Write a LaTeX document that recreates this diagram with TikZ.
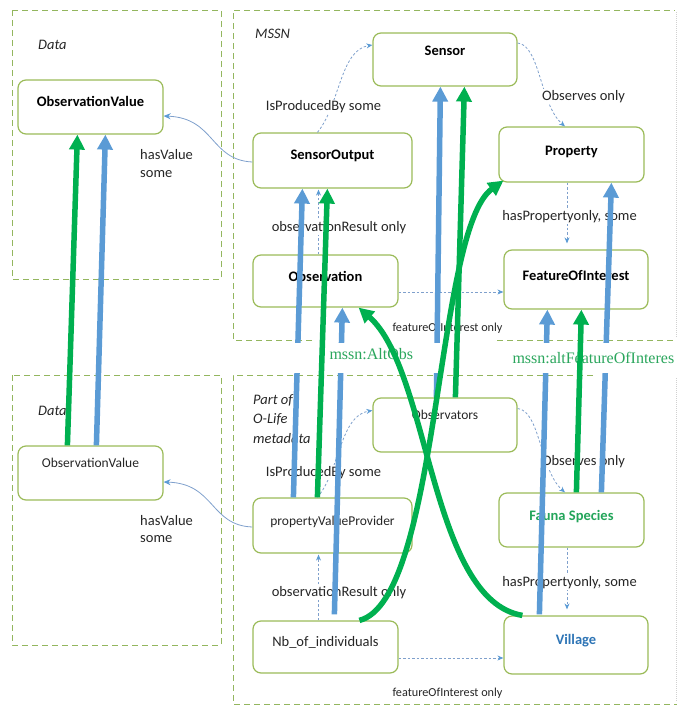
\documentclass[tikz,border=0pt]{standalone}
\usepackage{fontspec}
\setmainfont{Carlito}
\newfontfamily\timesfont{Liberation Serif}
\usetikzlibrary{arrows.meta}
\definecolor{contgreen}{HTML}{93B65E}
\definecolor{boxgreen}{HTML}{9BBB59}
\definecolor{tblue}{HTML}{5B9BD5}
\definecolor{tgreen}{HTML}{00B050}
\definecolor{thinblue}{HTML}{7FA0CC}
\definecolor{labgray}{HTML}{262626}
\definecolor{faunagreen}{HTML}{23A55A}
\definecolor{villageblue}{HTML}{2E75B6}
\definecolor{mssngreen}{HTML}{2AA65C}
\definecolor{edgegray}{HTML}{D0D0D0}
\begin{document}
\begin{tikzpicture}[x=1pt,y=-1pt,
  container/.style={draw=contgreen, line width=0.9pt, dash pattern=on 6pt off 4pt},
  faintedge/.style={draw=edgegray, line width=0.6pt, dash pattern=on 1pt off 1pt},
  box/.style={draw=boxgreen, line width=1.2pt, rounded corners=8pt, fill=white, inner sep=0pt, text=black, text height=10pt, font=\fontsize{14.5}{17}\selectfont\bfseries},
  plainbox/.style={box, text=labgray, font=\fontsize{13.5}{16}\selectfont},
  txd/.style={text depth=#1},
  lab/.style={fill=white, inner sep=1pt, text=labgray, font=\fontsize{14.5}{17.7}\selectfont, anchor=base},
  smalllab/.style={lab, font=\fontsize{12.2}{14}\selectfont},
  ital/.style={inner sep=0pt, anchor=base west, text=labgray, font=\fontsize{14.5}{19.5}\selectfont\itshape, align=left},
  rel/.style={draw=thinblue, line width=0.8pt, dash pattern=on 2.5pt off 2pt, -{Stealth[length=6pt,width=5pt,color=tblue]}},
  relsolid/.style={draw=thinblue, line width=0.8pt, -{Stealth[length=7pt,width=6pt,color=tblue]}},
  bluearrow/.style={draw=tblue, line width=5.5pt, -{Triangle[length=15pt,width=15pt]}},
  greenarrow/.style={draw=tgreen, line width=5.5pt, -{Triangle[length=15pt,width=15pt]}},
  mssnlab/.style={inner sep=0pt, anchor=base west, text=mssngreen, font=\timesfont\fontsize{16}{18}\selectfont}
]
\useasboundingbox (0,0) rectangle (677,707);

% containers
\draw[container] (12,10) rectangle (221,279);
\draw[container] (12,375) rectangle (221,645);
\draw[container] (312,340) -- (233,340) -- (233,10) -- (675,10);
\draw[container] (497,340.5) -- (677,340.5);
\draw[faintedge] (676,12) -- (676,338);
\draw[container] (593,375) -- (233,375) -- (233,704) -- (677,704);
\draw[faintedge] (676,378) -- (676,702);

% boxes, top
\node[box, minimum width=145pt, minimum height=54pt, txd=11.2pt] (ovT) at (90.5,107) {ObservationValue};
\node[box, minimum width=144pt, minimum height=53pt, txd=17.6pt] (sensor) at (445,59.5) {Sensor};
\node[box, minimum width=159pt, minimum height=55pt, txd=11.6pt] (sout) at (332.5,160.5) {SensorOutput};
\node[box, minimum width=145pt, minimum height=52pt, txd=8.6pt] (obs) at (325.5,281) {Observation};
\node[box, minimum width=145pt, minimum height=55pt, txd=8.2pt] (prop) at (571.5,154.5) {Property};
\node[box, minimum width=144pt, minimum height=59pt, txd=9pt] (foi) at (576,279.5) {FeatureOfInterest};
% boxes, bottom
\node[plainbox, minimum width=145pt, minimum height=54pt, txd=21.9pt] (ovB) at (90.5,473) {ObservationValue};
\node[plainbox, minimum width=144pt, minimum height=54pt, txd=21.3pt] (obsv) at (445,425) {Observators};
\node[plainbox, minimum width=159pt, minimum height=55pt, txd=10.9pt] (pvp) at (332.5,525.5) {propertyValueProvider};
\node[plainbox, font=\fontsize{14.5}{17}\selectfont, minimum width=145pt, minimum height=52pt, txd=11.2pt] (nb) at (325.5,647) {Nb\_of\_individuals};
\node[box, text=faunagreen, minimum width=145pt, minimum height=54pt, txd=9pt] (fauna) at (571.5,520) {Fauna Species};
\node[box, text=villageblue, minimum width=144pt, minimum height=58pt, txd=10.6pt] (village) at (576,645) {Village};

% thin relations, top
\draw[rel] ([xshift=65pt]sout.north west) .. controls (340,105) and (340,50) .. ([yshift=14.5pt]sensor.west);
\draw[rel] ([yshift=16.5pt]sensor.east) .. controls (540,45) and (540,105) .. ([xshift=-6.5pt]prop.north);
\draw[rel, shorten >=6pt] ([xshift=-4.5pt]prop.south) -- ([xshift=-9pt]foi.north);
\draw[rel, shorten >=1pt] ([xshift=-7pt]obs.north) -- ([xshift=-14pt]sout.south);
\draw[rel] ([yshift=-11pt]obs.east) -- ([yshift=-12.5pt]foi.west);
\draw[relsolid] ([yshift=-1.5pt]sout.west) .. controls (210,160) and (215,118) .. ([yshift=-9pt]ovT.east);
% thin relations, bottom
\draw[rel] ([xshift=65pt]pvp.north west) .. controls (340,470.5) and (340,415.5) .. ([yshift=14.5pt]obsv.west);
\draw[rel] ([yshift=16.5pt]obsv.east) .. controls (540,410.5) and (540,470.5) .. ([xshift=-6.5pt]fauna.north);
\draw[rel, shorten >=6pt] ([xshift=-4.5pt]fauna.south) -- ([xshift=-9pt]village.north);
\draw[rel, shorten >=1pt] ([xshift=-7pt]nb.north) -- ([xshift=-14pt]pvp.south);
\draw[rel] ([yshift=-11pt]nb.east) -- ([yshift=-13pt]village.west);
\draw[relsolid] ([yshift=-1.5pt]pvp.west) .. controls (210,525.5) and (215,483.5) .. ([yshift=-9pt]ovB.east);

% labels, top
\node[ital] (tData) at (38,49.7) {Data};
\node[ital] (tMSSN) at (255,38.7) {MSSN};
\node[lab] (lProdT) at (323.5,110.7) {IsProducedBy some};
\node[lab, anchor=base west, align=left] (lValT) at (139,177.4) {hasValue\\some};
\node[lab] (lObsT) at (583.5,100.4) {Observes only};
\node[lab] (lPropT) at (569.5,220.7) {hasPropertyonly, some};
\node[lab] (lResT) at (339,231.4) {observationResult only};
\node[smalllab] (lFoiT) at (447.5,331.3) {featureOfInterest only};
% labels, bottom
\node[ital] (bData) at (38,415.2) {Data};
\node[ital] (bPart) at (253,443.2) {Part of\\O-Life\\metadata};
\node[lab] (lProdB) at (323.5,476.2) {IsProducedBy some};
\node[lab, anchor=base west, align=left] (lValB) at (139,542.9) {hasValue\\some};
\node[lab] (lObsB) at (583.5,465.9) {Observes only};
\node[lab] (lPropB) at (569.5,586.2) {hasPropertyonly, some};
\node[lab] (lResB) at (339,596.9) {observationResult only};
\node[smalllab] (lFoiB) at (447.5,696.8) {featureOfInterest only};

% thick blue arrows
\draw[bluearrow] ([xshift=79pt]ovB.north west) -- ([xshift=88pt]ovT.south west);
\draw[bluearrow] ([xshift=41pt]pvp.north west) -- ([xshift=50pt]sout.south west);
\draw[bluearrow] ([xshift=82pt,yshift=6pt]nb.north west) -- ([xshift=90pt]obs.south west);
\draw[bluearrow] ([xshift=64pt]obsv.north west) -- ([xshift=68pt]sensor.south west);
\draw[bluearrow] ([xshift=36pt,yshift=1pt]village.north west) -- ([xshift=44pt]foi.south west);
\draw[bluearrow] ([xshift=103pt]fauna.north west) -- ([xshift=113pt]prop.south west);

% seam between the two halves
\fill[white] (234.5,343) rectangle (674,373);

% green captions
\node[mssnlab] (mAlt) at (329.3,359.5) {mssn:AltObs};
\node[mssnlab] (mFoi) at (512.3,363.3) {mssn:altFeatureOfInteres};

% thick green arrows
\draw[greenarrow] ([xshift=50pt]ovB.north west) -- ([xshift=60pt]ovT.south west);
\draw[greenarrow] ([xshift=65pt]pvp.north west) -- ([xshift=75pt]sout.south west);
\draw[greenarrow] ([xshift=83pt]obsv.north west) -- ([xshift=92pt]sensor.south west);
\draw[greenarrow] ([xshift=78pt]fauna.north west) -- ([xshift=78pt]foi.south west);
\draw[greenarrow] ([xshift=107pt]nb.north west) .. controls (440,600) and (435,230) .. ([xshift=5pt,yshift=2pt]prop.south west);
\draw[greenarrow] ([xshift=19pt]village.north west) .. controls (430,600) and (430,370) .. ([xshift=-40pt]obs.south east);
\end{tikzpicture}
\end{document}
